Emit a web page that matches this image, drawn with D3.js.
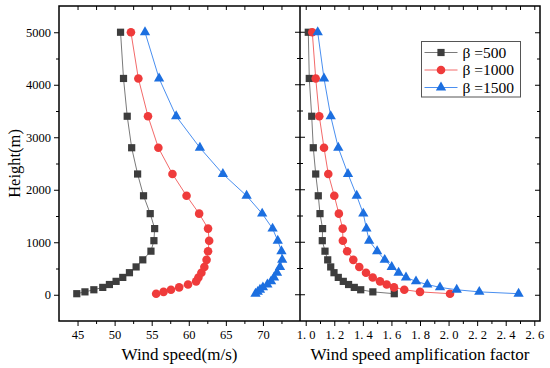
<!DOCTYPE html>
<html>
<head>
<meta charset="utf-8">
<script src="https://cdn.jsdelivr.net/npm/d3@7"></script>
<style>
  body { margin: 0; background: #fff; }
  svg { display: block; }
  text { font-family: "Liberation Serif", "Times New Roman", serif; fill: #000; }
</style>
</head>
<body>
<svg id="chart" width="550" height="368"></svg>
<script>
// heights (m) shared by every series
var heights = [20, 55, 95, 140, 195, 255, 330, 420, 530, 665, 830, 1030, 1260, 1545, 1885, 2300, 2800, 3400, 4120, 5000];

// wind speed (m/s), left panel
var speed500  = [44.9, 46.0, 47.2, 48.4, 49.3, 50.2, 51.1, 52.0, 52.9, 53.8, 54.9, 55.3, 55.4, 54.8, 53.9, 53.1, 52.3, 51.7, 51.2, 50.8];
var speed1000 = [55.6, 56.6, 57.6, 58.7, 59.9, 61.0, 61.3, 61.7, 62.1, 62.4, 62.6, 62.75, 62.6, 61.4, 59.7, 57.8, 55.9, 54.5, 53.2, 52.2];
var speed1500 = [69.0, 69.3, 69.6, 70.0, 70.6, 71.1, 71.5, 71.9, 72.3, 72.6, 72.5, 72.0, 71.3, 69.9, 67.8, 64.6, 61.5, 58.3, 56.0, 54.1];

// wind speed amplification factor, right panel
var amp500  = [1.62, 1.47, 1.385, 1.34, 1.30, 1.263, 1.228, 1.198, 1.175, 1.154, 1.135, 1.116, 1.118, 1.10, 1.088, 1.07, 1.053, 1.042, 1.025, 1.018];
var amp1000 = [2.01, 1.80, 1.69, 1.618, 1.567, 1.52, 1.469, 1.422, 1.375, 1.333, 1.29, 1.26, 1.259, 1.232, 1.20, 1.158, 1.128, 1.095, 1.07, 1.046];
var amp1500 = [2.49, 2.215, 2.057, 1.94, 1.851, 1.772, 1.702, 1.65, 1.602, 1.553, 1.50, 1.444, 1.425, 1.403, 1.357, 1.296, 1.228, 1.175, 1.128, 1.084];

var seriesNames = ["\u03B2 =500", "\u03B2 =1000", "\u03B2 =1500"];

var heightTicks = [0, 1000, 2000, 3000, 4000, 5000];
var heightMinor = [500, 1500, 2500, 3500, 4500];
var speedTicks = [45, 50, 55, 60, 65, 70];
var speedMinor = [47.5, 52.5, 57.5, 62.5, 67.5, 72.5];
var ampTicks = [1.0, 1.2, 1.4, 1.6, 1.8, 2.0, 2.2, 2.4, 2.6];
var ampMinor = [1.1, 1.3, 1.5, 1.7, 1.9, 2.1, 2.3, 2.5];

var markerColor = ["#3d3d3d", "#ef3b3b", "#1c6fe0"];
var lineColor = ["#7a7a7a", "#f36a6a", "#4a8ff0"];
var shapes = [d3.symbolSquare, d3.symbolCircle, d3.symbolTriangle];
var sizes = [52, 58, 46];

var plotTop = 6, plotBottom = 321, plotLeft = 59, plotMid = 300, plotRight = 540;
var serif = "Liberation Serif, Times New Roman, serif";

var svg = d3.select("#chart");

var y = d3.scaleLinear().domain([-500, 5500]).range([plotBottom, plotTop]);
var xL = d3.scaleLinear().domain([42.5, 75]).range([plotLeft, plotMid]);
var xR = d3.scaleLinear().domain([0.96, 2.64]).range([plotMid, plotRight]);

function styleAxis(g) {
  g.attr("font-family", serif).attr("font-size", 12.5);
  g.select(".domain").remove();
  g.selectAll(".tick line").attr("stroke", "#000").attr("stroke-width", 1);
  g.selectAll(".tick text").attr("fill", "#000");
}

// x axes, bottom (outward) and top (inward)
function xAxes(x, major, minor, fmt) {
  svg.append("g").attr("transform", "translate(0," + plotBottom + ")")
    .call(d3.axisBottom(x).tickValues(major).tickSize(5).tickPadding(4).tickFormat(fmt))
    .call(styleAxis);
  svg.append("g").attr("transform", "translate(0," + plotBottom + ")")
    .call(d3.axisBottom(x).tickValues(minor).tickSize(3).tickFormat(""))
    .call(styleAxis);
  svg.append("g").attr("transform", "translate(0," + plotTop + ")")
    .call(d3.axisBottom(x).tickValues(major.concat(minor)).tickSize(4).tickFormat(""))
    .call(styleAxis);
}
xAxes(xL, speedTicks, speedMinor, d3.format("d"));
xAxes(xR, ampTicks, ampMinor, function(d) { return d3.format(".1f")(d).replace(".", ". "); });

// y axes
svg.append("g").attr("transform", "translate(" + plotLeft + ",0)")
  .call(d3.axisLeft(y).tickValues(heightTicks).tickSize(5).tickPadding(3).tickFormat(d3.format("d")))
  .call(styleAxis);
svg.append("g").attr("transform", "translate(" + plotLeft + ",0)")
  .call(d3.axisLeft(y).tickValues(heightMinor).tickSize(3).tickFormat(""))
  .call(styleAxis);
// right edge, ticks pointing in
svg.append("g").attr("transform", "translate(" + plotRight + ",0)")
  .call(d3.axisLeft(y).tickValues(heightTicks).tickSize(5).tickFormat(""))
  .call(styleAxis);
svg.append("g").attr("transform", "translate(" + plotRight + ",0)")
  .call(d3.axisLeft(y).tickValues(heightMinor).tickSize(3).tickFormat(""))
  .call(styleAxis);
// middle divider, ticks crossing both sides
svg.append("g").selectAll("line").data(heightTicks).enter().append("line")
  .attr("x1", plotMid - 5).attr("x2", plotMid + 5)
  .attr("y1", function(d) { return y(d); }).attr("y2", function(d) { return y(d); })
  .attr("stroke", "#000");
svg.append("g").selectAll("line").data(heightMinor).enter().append("line")
  .attr("x1", plotMid - 3).attr("x2", plotMid + 3)
  .attr("y1", function(d) { return y(d); }).attr("y2", function(d) { return y(d); })
  .attr("stroke", "#000");

// frames
svg.append("rect").attr("x", plotLeft).attr("y", plotTop).attr("width", plotRight - plotLeft).attr("height", plotBottom - plotTop)
  .attr("fill", "none").attr("stroke", "#000").attr("stroke-width", 1.5);
svg.append("line").attr("x1", plotMid).attr("x2", plotMid).attr("y1", plotTop).attr("y2", plotBottom)
  .attr("stroke", "#000").attr("stroke-width", 1.5);

// series
function drawSeries(x, vals, i) {
  var pts = vals.map(function(v, j) { return { v: v, h: heights[j] }; });
  var line = d3.line().x(function(d) { return x(d.v); }).y(function(d) { return y(d.h); });
  svg.append("path").datum(pts)
    .attr("fill", "none").attr("stroke", lineColor[i]).attr("stroke-width", 1)
    .attr("d", line);
  svg.append("g").selectAll("path").data(pts).enter().append("path")
    .attr("d", d3.symbol().type(shapes[i]).size(sizes[i]))
    .attr("transform", function(d) { return "translate(" + x(d.v) + "," + y(d.h) + ")"; })
    .attr("fill", markerColor[i]);
}
[speed500, speed1000, speed1500].forEach(function(s, i) { drawSeries(xL, s, i); });
[amp500, amp1000, amp1500].forEach(function(s, i) { drawSeries(xR, s, i); });

// axis titles
svg.append("text").attr("x", (plotLeft + plotMid) / 2).attr("y", 360).attr("text-anchor", "middle")
  .style("font-size", "17px").text("Wind speed(m/s)");
svg.append("text").attr("x", (plotMid + plotRight) / 2).attr("y", 360).attr("text-anchor", "middle")
  .style("font-size", "17px").text("Wind speed amplification factor");
svg.append("text").attr("transform", "translate(20," + ((plotTop + plotBottom) / 2) + ") rotate(-90)")
  .attr("text-anchor", "middle").style("font-size", "16.5px").text("Height(m)");

// legend
var lg = svg.append("g").attr("transform", "translate(421.5,41.5)");
lg.append("rect").attr("width", 99).attr("height", 55.5)
  .attr("fill", "#fff").attr("stroke", "#555").attr("stroke-width", 1);
seriesNames.forEach(function(name, i) {
  var ry = 11 + i * 17.5;
  lg.append("line").attr("x1", 3).attr("x2", 36).attr("y1", ry).attr("y2", ry)
    .attr("stroke", lineColor[i]).attr("stroke-width", 1);
  lg.append("path").attr("d", d3.symbol().type(shapes[i]).size(sizes[i]))
    .attr("transform", "translate(19.5," + ry + ")").attr("fill", markerColor[i]);
  lg.append("text").attr("x", 41).attr("y", ry + 5).style("font-size", "15.5px").text(name);
});
</script>
</body>
</html>
